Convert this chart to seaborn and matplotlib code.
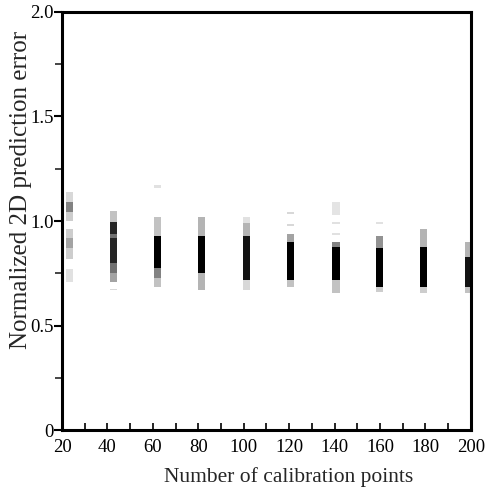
import matplotlib
matplotlib.use("Agg")
import matplotlib.pyplot as plt
import seaborn as sns
import numpy as np

# Strip centres (number of calibration points, as drawn in the figure)
strip_x = [23.3, 42.5, 62.0, 81.5, 101.0, 120.7, 140.6, 159.7, 179.3, 199.0]

# Density bands of each strip: (low error, high error, point density 0..1)
bands_20 = [(0.71, 0.77, 0.3), (0.82, 0.87, 0.4), (0.87, 0.92, 0.55), (0.92, 0.96, 0.4),
            (1.00, 1.045, 0.4), (1.045, 1.09, 0.65), (1.09, 1.14, 0.35)]
bands_40 = [(0.67, 0.675, 0.35), (0.71, 0.75, 0.55), (0.75, 0.80, 0.7), (0.80, 0.92, 0.9),
            (0.92, 0.94, 0.7), (0.94, 0.995, 0.9), (0.995, 1.05, 0.45)]
bands_60 = [(0.685, 0.73, 0.45), (0.73, 0.775, 0.65), (0.775, 0.93, 1.0), (0.93, 1.02, 0.45),
            (1.16, 1.17, 0.3)]
bands_80 = [(0.67, 0.75, 0.5), (0.75, 0.93, 1.0), (0.93, 1.02, 0.5)]
bands_100 = [(0.67, 0.72, 0.35), (0.72, 0.93, 0.95), (0.93, 0.99, 0.5), (0.99, 1.02, 0.3)]
bands_120 = [(0.685, 0.72, 0.45), (0.72, 0.90, 1.0), (0.90, 0.94, 0.55), (0.975, 0.985, 0.35),
             (1.035, 1.045, 0.35)]
bands_140 = [(0.655, 0.72, 0.45), (0.72, 0.875, 1.0), (0.875, 0.90, 0.65), (0.935, 0.945, 0.3),
             (0.985, 0.995, 0.3), (1.03, 1.09, 0.28)]
bands_160 = [(0.66, 0.685, 0.4), (0.685, 0.87, 1.0), (0.87, 0.93, 0.6), (0.985, 0.995, 0.3)]
bands_180 = [(0.655, 0.685, 0.4), (0.685, 0.875, 1.0), (0.875, 0.96, 0.5)]
bands_200 = [(0.655, 0.685, 0.45), (0.685, 0.83, 0.95), (0.83, 0.90, 0.5)]

all_bands = [bands_20, bands_40, bands_60, bands_80, bands_100,
             bands_120, bands_140, bands_160, bands_180, bands_200]

x_ticks = [20, 40, 60, 80, 100, 120, 140, 160, 180, 200]
y_ticks = [0, 0.5, 1.0, 1.5, 2.0]
y_tick_labels = ["0", "0.5", "1.0", "1.5", "2.0"]

sns.set_style("ticks")
plt.rcParams['font.family'] = ['Liberation Serif', 'DejaVu Serif']

fig = plt.figure(figsize=(4.86, 4.90), dpi=100)
ax = fig.add_axes([0.1276, 0.1216, 0.8414, 0.8547])

cmap = plt.get_cmap('Greys')
for xc, bands in zip(strip_x, all_bands):  # one strip per calibration size
    for lo, hi, level in bands:
        ax.bar(xc, hi - lo, bottom=lo, width=3.1, color=cmap(level ** 1.3),
               linewidth=0)

ax.set_xlim(20, 200)
ax.set_ylim(0, 2)
ax.set_xticks(x_ticks)
ax.set_xticks(np.arange(30, 200, 20), minor=True)
ax.set_yticks(y_ticks)
ax.set_yticklabels(y_tick_labels)
ax.set_yticks(np.arange(0.25, 2.0, 0.5), minor=True)

ax.tick_params(axis='x', which='both', direction='in', length=5, width=1.2,
               labelsize=13.5, pad=6, colors='black')
ax.tick_params(axis='y', which='major', direction='out', length=6, width=1.5,
               labelsize=13.5, pad=0, colors='black')
ax.tick_params(axis='y', which='minor', direction='out', length=5, width=1.2)

for sp in ax.spines.values():
    sp.set_linewidth(2.2)
    sp.set_color('black')
    sp.set_visible(True)

ax.set_xlabel("Number of calibration points", fontsize=15.5)
ax.xaxis.set_label_coords(0.555, -0.088)
ax.set_ylabel("Normalized 2D prediction error", fontsize=18)
ax.yaxis.set_label_coords(-0.074, 0.574)

fig.savefig("out.png", dpi=100, facecolor='white')
